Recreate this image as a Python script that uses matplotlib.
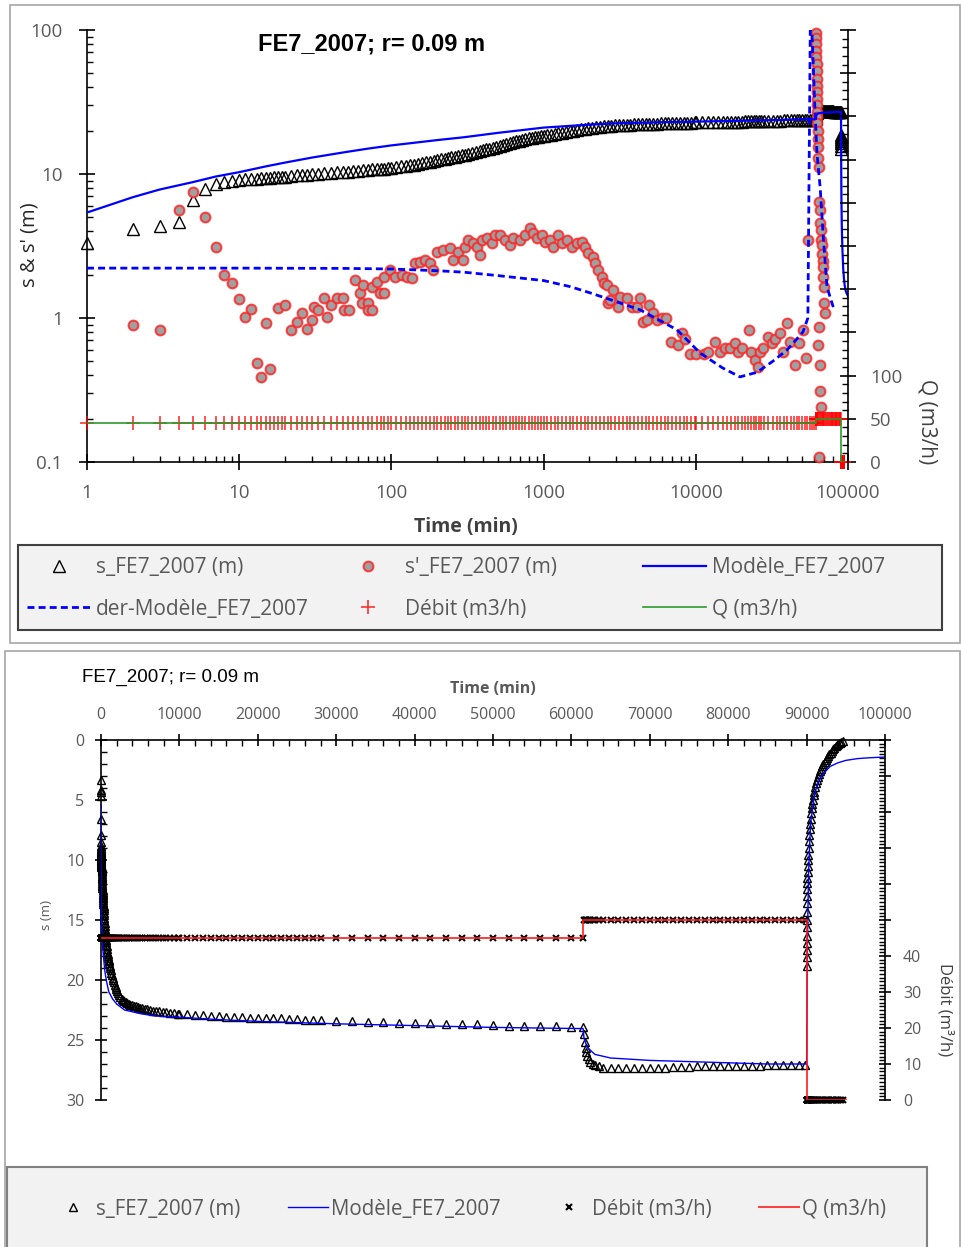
import matplotlib
matplotlib.use("Agg")
import matplotlib.pyplot as plt
import numpy as np
from matplotlib.patches import Rectangle
from matplotlib.ticker import LogLocator, MultipleLocator, FuncFormatter, NullFormatter

# --- drawdown s (m), first pumping step (t in min)
s_t = [1, 2, 3, 4, 5, 6, 7, 8, 9, 10, 11, 12, 13, 14, 15, 16, 17, 18, 19, 20,
       22, 24, 26, 28, 30, 33, 36, 40, 44, 48, 52, 56, 60, 65, 70, 75, 80, 85, 90, 95,
       100, 108, 116, 124, 132, 140, 150, 160, 170, 180,
       190, 200, 212, 224, 236, 248, 260, 275, 290, 305,
       320, 340, 360, 380, 400, 420, 440, 465, 490, 515,
       540, 570, 600, 630, 660, 690, 720, 760, 800, 840,
       880, 920, 960,
       1000, 1060, 1120, 1180, 1250, 1320, 1400, 1480, 1570, 1660,
       1760, 1860, 1970, 2090, 2210, 2340, 2480, 2630, 2790, 2950,
       3130, 3310, 3510, 3720, 3940, 4170, 4420, 4680, 4960, 5250,
       5560, 5890, 6240, 6610, 7000, 7420, 7860, 8320, 8810, 9330,
       9880,
       10000, 11000, 12000, 13000, 14000, 15000, 16000, 17000, 18000, 19000,
       20000, 21000, 22000, 23000, 24000, 25000, 26000, 27000, 28000,
       30000, 32000, 34000, 36000, 38000, 40000, 42000, 44000, 46000, 48000,
       50000, 52000, 54000, 56000, 58000, 60000, 61500]
s_val = [3.3, 4.15, 4.35, 4.65, 6.6, 7.9, 8.5, 8.8, 9.0, 9.1, 9.2, 9.25, 9.3, 9.35, 9.4, 9.45, 9.5, 9.55, 9.6, 9.6,
         9.7, 9.8, 9.85, 9.9, 10.0, 10.05, 10.1, 10.2, 10.3, 10.35, 10.4, 10.5, 10.55, 10.6, 10.7, 10.75, 10.8, 10.85, 10.9, 10.95,
         11.0, 11.15, 11.3, 11.4, 11.5, 11.6, 11.75, 11.9, 12.05, 12.2,
         12.35, 12.5, 12.65, 12.8, 12.95, 13.05, 13.2, 13.35, 13.5, 13.65,
         13.8, 14.0, 14.2, 14.4, 14.6, 14.8, 15.0, 15.25, 15.5, 15.75,
         15.95, 16.2, 16.45, 16.65, 16.85, 17.05, 17.2, 17.45, 17.65, 17.85,
         18.0, 18.15, 18.3,
         18.4, 18.6, 18.8, 19.0, 19.2, 19.4, 19.6, 19.8, 20.0, 20.2,
         20.4, 20.55, 20.75, 20.95, 21.1, 21.25, 21.4, 21.55, 21.65, 21.75,
         21.85, 21.95, 22.0, 22.05, 22.1, 22.15, 22.2, 22.25, 22.3, 22.35,
         22.4, 22.45, 22.5, 22.55, 22.6, 22.62, 22.65, 22.68, 22.72, 22.76,
         22.8,
         22.8, 22.85, 22.9, 22.95, 23.0, 23.0, 23.05, 23.1, 23.1, 23.15,
         23.15, 23.2, 23.2, 23.2, 23.25, 23.25, 23.3, 23.3, 23.3,
         23.4, 23.45, 23.5, 23.5, 23.55, 23.6, 23.6, 23.65, 23.7, 23.7,
         23.75, 23.8, 23.8, 23.85, 23.85, 23.9, 23.95]

# --- second pumping step
s2_t = [61600, 61700, 61800, 61900, 62000, 62200, 62400, 62700, 63000, 63500,
        64000, 65000, 66000, 67000, 68000, 69000, 70000, 71000, 72000, 73000,
        74000, 75000, 76000, 77000, 78000, 79000, 80000, 81000, 82000, 83000,
        84000, 85000, 86000, 87000, 88000, 89000, 89800]
s2_val = [24.5, 25.2, 25.7, 26.0, 26.3, 26.6, 26.8, 27.0, 27.1, 27.2,
          27.3, 27.35, 27.35, 27.35, 27.35, 27.3, 27.3, 27.3, 27.3, 27.25,
          27.25, 27.25, 27.2, 27.2, 27.2, 27.2, 27.2, 27.15, 27.15, 27.15,
          27.15, 27.1, 27.1, 27.1, 27.1, 27.1, 27.1]

# --- recovery
rec_t = [90002, 90003, 90005, 90007, 90010, 90015, 90020, 90030, 90040, 90055,
         90070, 90085, 90100, 90125, 90150, 90175, 90200, 90250, 90300, 90350,
         90400, 90450, 90500, 90575, 90650, 90725, 90800, 90900, 91000, 91125,
         91250, 91375, 91500, 91625, 91750, 91875, 92000, 92150, 92300, 92450,
         92600, 92750, 92900, 93050, 93200, 93350, 93500, 93700, 93900, 94050,
         94200, 94400, 94600]
rec_val = [18.8, 18.1, 17.5, 16.9, 16.3, 15.6, 15.0, 14.3, 13.6, 13.0,
           12.4, 11.9, 11.5, 11.0, 10.5, 10.0, 9.6, 9.0, 8.4, 7.9,
           7.4, 7.0, 6.6, 6.1, 5.7, 5.3, 5.0, 4.6, 4.3, 3.9,
           3.6, 3.35, 3.1, 2.85, 2.6, 2.4, 2.2, 2.0, 1.85, 1.65,
           1.5, 1.35, 1.2, 1.05, 0.9, 0.78, 0.65, 0.52, 0.4, 0.32,
           0.25, 0.15, 0.05]

# --- model
model_t = [1, 2, 3, 5, 7, 10, 15, 20, 30, 50, 70, 100, 150, 200, 300, 500, 700, 1000, 1500, 2000,
           3000, 5000, 7000, 10000, 15000, 20000, 30000, 40000, 50000, 61500,
           61600, 62000, 63000, 65000, 70000, 75000, 80000, 85000, 90000, 90100,
           90250, 90500, 91000, 91500, 92000, 93000, 94000, 95000, 96500, 98000, 100000]
model_val = [5.4, 6.9, 7.8, 8.8, 9.6, 10.3, 11.3, 12.0, 13.0, 14.2, 15.0, 15.8, 16.6, 17.2, 18.0, 19.3, 20.1, 21.0, 21.6, 22.0,
             22.5, 22.8, 23.0, 23.1, 23.3, 23.45, 23.65, 23.8, 23.95, 24.05,
             24.8, 25.6, 26.2, 26.5, 26.7, 26.8, 26.9, 27.0, 27.0, 17.0,
             11.0, 7.0, 4.5, 3.5, 2.9, 2.2, 1.9, 1.7, 1.55, 1.48, 1.42]

# --- derivative of model
dmodel_t = [1, 10, 50, 100, 200, 300, 500, 1000, 1500, 2000, 3000, 4300, 7500, 10700, 15000,
            19500, 25300, 32000, 39800, 50600, 54500, 55500, 56500, 58000, 60500,
            62500, 65600, 69000, 72800, 80000]
dmodel_val = [2.22, 2.22, 2.21, 2.19, 2.13, 2.08, 1.97, 1.82, 1.65, 1.50, 1.30, 1.14, 0.83, 0.57, 0.45,
              0.39, 0.42, 0.50, 0.60, 0.80, 1.0, 10, 100, 95, 30,
              14, 8.1, 3.5, 1.64, 1.19]

# --- derivative of data s'
deriv_t = [2, 3, 4, 5, 6, 7, 8, 9, 10, 11,
           12, 13, 14, 15, 16, 18, 20, 22, 24, 26,
           28, 30, 31, 33, 36, 38, 40, 44, 48, 49,
           53, 58, 62, 64, 65, 70, 70, 75, 75, 81,
           84, 90, 90, 98, 106, 117, 126, 137, 143, 154,
           166, 180, 188, 199, 218, 241, 255, 273, 295, 304,
           317, 343, 364, 382, 394, 425, 457, 479, 516, 555,
           597, 630, 700, 760, 814, 854, 906, 979, 1020, 1100,
           1150, 1240, 1320, 1420, 1530, 1650, 1780, 1860, 1960, 2100,
           2170, 2270, 2410, 2500, 2620, 2650, 2740, 2870, 3080, 3180,
           3530, 3800, 4100, 4300, 4500, 4800, 4950, 5200, 5600, 6000,
           6400, 6900, 7600, 8100, 8500, 9100, 10100, 11300, 12000, 13400,
           14400, 15500, 16700, 18000, 18800, 20200, 22400, 23200, 24500, 25700,
           26500, 27800, 29700, 31600, 33000, 35600, 37600, 40000, 41500, 44800,
           48000, 50600, 53000, 54600, 61600, 61700, 61800, 61900, 62000, 62100,
           62200, 62300, 62400, 62500, 62600, 62700, 62800, 62900, 63000, 63200,
           63400, 63600, 63800, 64000, 64500, 65000, 65500, 66000, 66500, 67000,
           67500, 68000, 68500, 69000, 69500, 70000, 70500, 64000, 63500, 65000,
           65500, 66000, 64000]
deriv_s = [0.89, 0.83, 5.6, 7.5, 5.0, 3.1, 1.99, 1.75, 1.36, 1.02,
           1.15, 0.49, 0.39, 0.92, 0.44, 1.17, 1.23, 0.83, 0.94, 1.08,
           0.84, 0.97, 1.19, 1.13, 1.38, 1.02, 1.23, 1.38, 1.38, 1.13,
           1.13, 1.84, 1.49, 1.27, 1.69, 1.27, 1.13, 1.13, 1.64, 1.78,
           1.49, 1.49, 1.93, 2.16, 1.93, 2.0, 1.93, 1.9, 2.4, 2.44,
           2.53, 2.4, 2.16, 2.86, 2.96, 3.07, 2.53, 2.86, 2.53, 3.1,
           3.47, 3.3, 3.1, 2.75, 3.47, 3.6, 3.3, 3.8, 3.75, 3.47,
           3.2, 3.6, 3.47, 3.8, 4.2, 3.9, 3.6, 3.8, 3.35, 3.47,
           3.1, 3.75, 3.3, 3.47, 3.1, 3.3, 3.35, 3.1, 2.82, 2.66,
           2.4, 2.16, 1.93, 1.75, 1.69, 1.27, 1.33, 1.57, 1.19, 1.40,
           1.38, 1.19, 1.19, 1.38, 0.94, 0.97, 1.23, 1.08, 0.97, 1.0,
           1.0, 0.68, 0.65, 0.79, 0.72, 0.56, 0.56, 0.56, 0.58, 0.68,
           0.58, 0.62, 0.62, 0.67, 0.58, 0.62, 0.82, 0.58, 0.51, 0.46,
           0.58, 0.62, 0.74, 0.67, 0.72, 0.79, 0.58, 0.92, 0.68, 0.47,
           0.67, 0.82, 0.53, 3.47, 95, 88, 80, 72, 65, 58,
           52, 46, 41, 37, 33, 30, 27, 25, 22.6, 20,
           17.5, 15.5, 13, 11.2, 6.4, 5.6, 4.6, 4.1, 3.5, 3.2,
           2.8, 2.5, 2.26, 1.93, 1.64, 1.27, 1.08, 0.87, 0.65, 0.47,
           0.31, 0.24, 0.108]

# --- pumping rate (m3/h)
Q_STEP1 = 45
Q_STEP2 = 50
Q_OFF = 0
q_t = [1, 61500, 61500, 90000, 90000, 95000]
q_val = [45, 45, 50, 50, 0, 0]

assert len(s_t) == len(s_val) and len(deriv_t) == len(deriv_s)

debit_t = s_t + s2_t + rec_t
debit_q = [Q_STEP1] * len(s_t) + [Q_STEP2] * len(s2_t) + [Q_OFF] * len(rec_t)

W, H = 961, 1247
GRAY = "#595959"
DARK = "#404040"
BLUE = "#0000ff"
RED = (1.0, 0.0, 0.0, 0.8)
GREEN = "#2e9a2e"

plt.rcParams["font.family"] = ["Open Sans", "DejaVu Sans"]

fig = plt.figure(figsize=(W / 100, H / 100), dpi=100)


def fx(px):
    return px / W


def fy(py):
    return 1 - py / H


def box(x0, y0, x1, y1, **kw):
    fig.patches.append(Rectangle((fx(x0), fy(y1)), (x1 - x0) / W, (y1 - y0) / H,
                                 transform=fig.transFigure, **kw))


box(10, 5, 960, 643, fill=False, edgecolor="#a6a6a6", lw=1.2)
box(5, 651, 960, 1252, fill=False, edgecolor="#a6a6a6", lw=1.2)
box(18, 545, 942, 630, facecolor="#f2f2f2", edgecolor=DARK, lw=1.5)
box(7, 1167, 927, 1252, facecolor="#f2f2f2", edgecolor="#808080", lw=1.5)


def style_ticks(ax, size, pad, major_len):
    ax.tick_params(which="major", direction="inout", length=major_len, width=1.2,
                   labelsize=size, labelcolor=GRAY, pad=pad)
    ax.tick_params(which="minor", direction="in", length=4, width=1.0)


plain = FuncFormatter(lambda v, p: f"{v:g}")

# ================= top: log-log =================
ax1 = fig.add_axes([fx(87), fy(462), 761 / W, 432 / H])
ax1.set_xscale("log")
ax1.set_yscale("log")
ax1.set_xlim(1, 1e5)
ax1.set_ylim(0.1, 100)
for sp in ("top", "right"):
    ax1.spines[sp].set_visible(False)
for sp in ("left", "bottom"):
    ax1.spines[sp].set_linewidth(1.2)

tri_kw = dict(ls="none", marker="^", ms=8, mfc="none", mec="black", mew=1, clip_on=False, zorder=3)
h_s, = ax1.plot(s_t, s_val, **tri_kw)
ax1.plot(s2_t, s2_val, **tri_kw)
ax1.plot(rec_t[:7], rec_val[:7], **tri_kw)  # only the first recovery readings show on this plot
h_d, = ax1.plot(deriv_t, deriv_s, ls="none", marker="o", ms=7, mfc="#a0a0a0",
                mec=(1.0, 0.15, 0.15, 0.85), mew=1.5, clip_on=False, zorder=4)
h_m, = ax1.plot(model_t, model_val, color=BLUE, lw=1.6, zorder=5)
h_dm, = ax1.plot(dmodel_t, dmodel_val, color=BLUE, lw=2, dashes=(2.5, 1.5), zorder=5)

for axis in (ax1.xaxis, ax1.yaxis):
    axis.set_major_locator(LogLocator(base=10, numticks=12))
    axis.set_minor_locator(LogLocator(base=10, subs=np.arange(2, 10), numticks=12))
    axis.set_minor_formatter(NullFormatter())
    axis.set_major_formatter(plain)
style_ticks(ax1, 13.5, 10, 11)
ax1.tick_params(axis="y", pad=12)

ax1q = ax1.twinx()
ax1q.set_ylim(0, 500)
for sp in ("top", "left", "bottom"):
    ax1q.spines[sp].set_visible(False)
ax1q.spines["right"].set_linewidth(1.2)
h_deb, = ax1q.plot(debit_t, debit_q, ls="none", marker="+", ms=9.5, mew=1.2, color=RED, clip_on=False)
h_q, = ax1q.plot(q_t, q_val, color=GREEN, lw=1.2)
ax1q.yaxis.set_major_locator(MultipleLocator(50))
ax1q.yaxis.set_minor_locator(MultipleLocator(10))
ax1q.yaxis.set_major_formatter(FuncFormatter(lambda v, p: f"{v:.0f}" if v <= 100 else ""))
style_ticks(ax1q, 13.5, 10.5, 11)

fig.text(fx(258), fy(44), "FE7_2007; r= 0.09 m", fontsize=17, fontweight="bold",
         family=["Liberation Sans", "DejaVu Sans"], ha="left", va="center")
fig.text(fx(466), fy(527), "Time (min)", fontsize=14, fontweight="bold", color=DARK, ha="center", va="center")
fig.text(fx(30), fy(245), "s & s' (m)", fontsize=14.5, rotation=90, color="#262626", ha="center", va="center")
fig.text(fx(927), fy(422), "Q (m3/h)", fontsize=15, rotation=270, color=DARK, ha="center", va="center")

top_cols = [((h_s, "s_FE7_2007 (m)"), (h_dm, "der-Modèle_FE7_2007")),
            ((h_d, "s'_FE7_2007 (m)"), (h_deb, "Débit (m3/h)")),
            ((h_m, "Modèle_FE7_2007"), (h_q, "Q (m3/h)"))]
for x0, col in zip((27, 336, 643), top_cols):
    fig.legend([c[0] for c in col], [c[1] for c in col], loc="center left",
               bbox_to_anchor=(fx(x0), fy(588.5)), frameon=False, borderpad=0, borderaxespad=0,
               handlelength=3.03, handletextpad=0.29, labelspacing=0.97, fontsize=15,
               labelcolor=GRAY)

# ================= bottom: linear =================
ax2 = fig.add_axes([fx(101), fy(1100), 784 / W, 360 / H])
ax2.set_xlim(0, 100000)
ax2.set_ylim(30, 0)
ax2.xaxis.tick_top()
for sp in ("bottom", "right"):
    ax2.spines[sp].set_visible(False)
for sp in ("top", "left"):
    ax2.spines[sp].set_linewidth(1.2)

tri2_kw = dict(ls="none", marker="^", ms=5.5, mfc="none", mec="black", mew=1, clip_on=False, zorder=3)
b_s, = ax2.plot(s_t, s_val, **tri2_kw)
ax2.plot(s2_t, s2_val, **tri2_kw)
ax2.plot(rec_t, rec_val, **tri2_kw)
b_m, = ax2.plot(model_t, model_val, color=BLUE, lw=1, zorder=4)

ax2.xaxis.set_major_locator(MultipleLocator(10000))
ax2.xaxis.set_minor_locator(MultipleLocator(2000))
ax2.yaxis.set_major_locator(MultipleLocator(5))
ax2.yaxis.set_minor_locator(MultipleLocator(1))
ax2.xaxis.set_major_formatter(FuncFormatter(lambda v, p: f"{v:.0f}"))
ax2.yaxis.set_major_formatter(FuncFormatter(lambda v, p: f"{v:.0f}"))
style_ticks(ax2, 11.5, 7.5, 9)

ax2q = ax2.twinx()
ax2q.set_ylim(0, 100)
for sp in ("top", "left", "bottom"):
    ax2q.spines[sp].set_visible(False)
ax2q.spines["right"].set_linewidth(1.2)
b_deb, = ax2q.plot(debit_t, debit_q, ls="none", marker="x", ms=4, mew=1.5, color="black", clip_on=False)
b_q, = ax2q.plot(q_t, q_val, color=(1.0, 0.1, 0.1, 0.85), lw=1.4)
ax2q.yaxis.set_major_locator(MultipleLocator(10))
ax2q.yaxis.set_minor_locator(MultipleLocator(1))
ax2q.yaxis.set_major_formatter(FuncFormatter(lambda v, p: f"{v:.0f}" if v <= 40 else ""))
style_ticks(ax2q, 11.5, 8.5, 9)

fig.text(fx(82), fy(677), "FE7_2007; r= 0.09 m", fontsize=13.5,
         family=["Liberation Sans", "DejaVu Sans"], ha="left", va="center")
fig.text(fx(493), fy(689), "Time (min)", fontsize=11.5, fontweight="bold", color=GRAY, ha="center", va="center")
fig.text(fx(47), fy(915), "s (m)", fontsize=9.5, rotation=90, color=GRAY, ha="center", va="center")
fig.text(fx(945), fy(1010), "Débit (m³/h)", fontsize=12, rotation=270, color=DARK, ha="center", va="center")

fig.legend([b_s, b_m, b_deb, b_q], ["s_FE7_2007 (m)", "Modèle_FE7_2007", "Débit (m3/h)", "Q (m3/h)"],
           ncol=4, loc="center left", bbox_to_anchor=(fx(53), fy(1209)), frameon=False,
           borderpad=0, borderaxespad=0, handlelength=1.94, handletextpad=0.15,
           columnspacing=2.33, fontsize=14.8, labelcolor=GRAY)

fig.savefig("out.png", dpi=100)
